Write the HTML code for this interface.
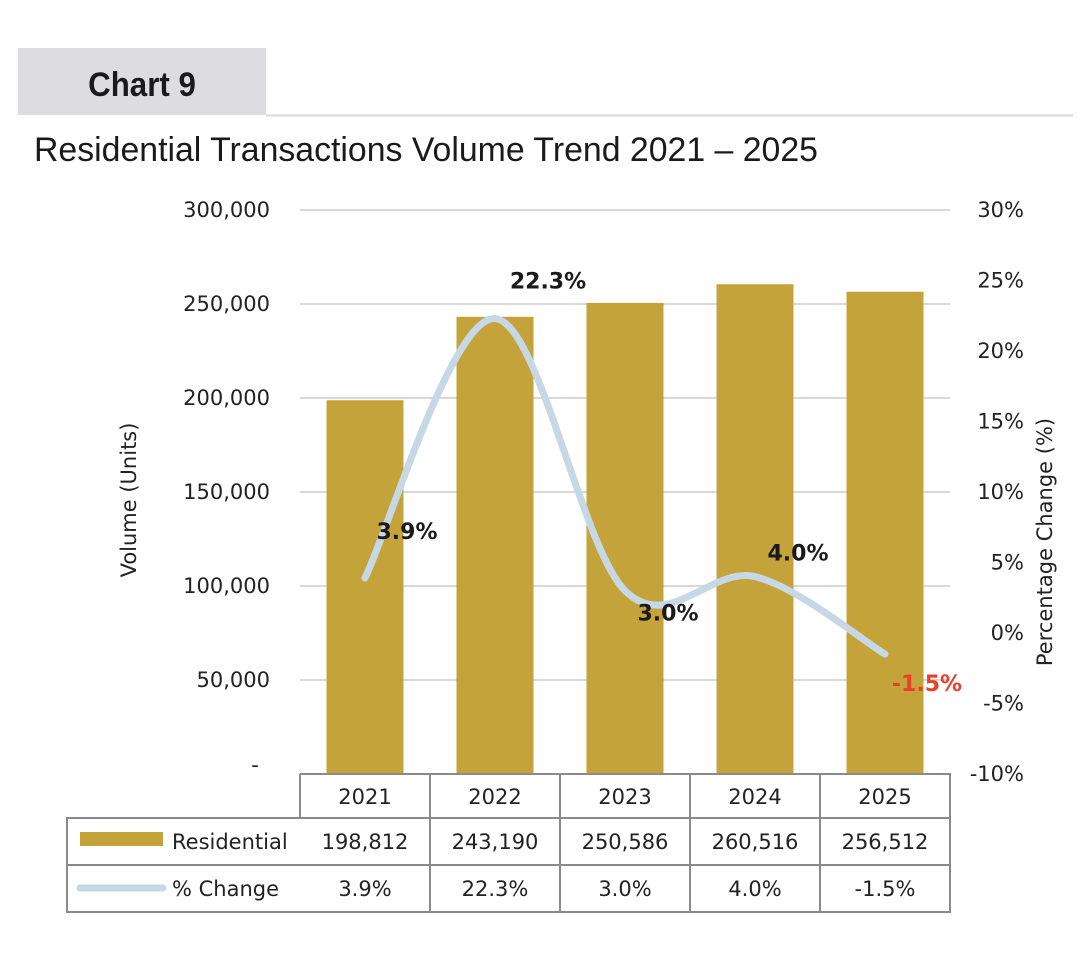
<!DOCTYPE html>
<html><head><meta charset="utf-8"><style>
body{margin:0;background:#fff;font-family:"Liberation Sans",sans-serif}
svg text{font-family:"DejaVu Sans","Liberation Sans",sans-serif}
</style></head><body>
<svg width="1080" height="957" viewBox="0 0 1080 957">
<rect x="18" y="48" width="248" height="67" fill="#dddde0"/>
<text x="142" y="96" text-anchor="middle" font-size="34" font-weight="bold" fill="#1a1a1a" style="font-family:'Liberation Sans',sans-serif" transform="translate(142 0) scale(0.92 1) translate(-142 0)">Chart 9</text>
<line x1="266" y1="115.5" x2="1073" y2="115.5" stroke="#d8d8d8" stroke-width="2"/>
<text x="34" y="161" font-size="34" fill="#1a1a1a" style="font-family:'Liberation Sans',sans-serif" textLength="784" lengthAdjust="spacingAndGlyphs">Residential Transactions Volume Trend 2021 – 2025</text>
<g id="grid"></g>
<g id="bars"></g>
<g id="line"></g>
<g id="table"></g>
<text transform="translate(136 500) rotate(-90)" text-anchor="middle" font-size="21" fill="#222">Volume (Units)</text>
<text transform="translate(1052 542) rotate(-90)" text-anchor="middle" font-size="21" fill="#222">Percentage Change (%)</text>
</svg>
<script>
const categories=["2021","2022","2023","2024","2025"];
const volumes=[198812,243190,250586,260516,256512];
const pctChange=[3.9,22.3,3.0,4.0,-1.5];
const volLabels=["198,812","243,190","250,586","260,516","256,512"];
const pctLabels=["3.9%","22.3%","3.0%","4.0%","-1.5%"];
const leftTicks=[0,50000,100000,150000,200000,250000,300000];
const leftTickLabels=["-","50,000","100,000","150,000","200,000","250,000","300,000"];
const rightTicks=[-10,-5,0,5,10,15,20,25,30];

const NS="http://www.w3.org/2000/svg";
const x0=300,cw=130,yTop=210,yBot=774;
const yL=v=>yBot-(v/300000)*(yBot-yTop);
const yR=p=>yBot-((p+10)/40)*(yBot-yTop);
const xC=i=>x0+cw*i+cw/2;
function mk(tag,attrs,parent,txt){const e=document.createElementNS(NS,tag);for(const k in attrs)e.setAttribute(k,attrs[k]);if(txt!==undefined)e.textContent=txt;parent.appendChild(e);return e;}
const grid=document.getElementById('grid'),bars=document.getElementById('bars'),line=document.getElementById('line'),table=document.getElementById('table');
leftTicks.forEach((t,i)=>{
 if(t>0){const g=mk('line',{x1:x0,x2:950,y1:yL(t),y2:yL(t),stroke:'#d9d9d9','stroke-width':2},grid);
 
 }
 const tx=mk('text',{x:i==0?255:270,y:yL(t)+(i==0?-2:7),'text-anchor':i==0?'middle':'end','font-size':21,fill:'#222'},grid,leftTickLabels[i]);
 
 
});
rightTicks.forEach(t=>{
 const tx=mk('text',{x:1024,y:yR(t)+7,'text-anchor':'end','font-size':21,fill:'#222'},grid,t+'%');
 
 
});
volumes.forEach((v,i)=>{
 const b=mk('rect',{x:xC(i)-38.5,y:yL(v),width:77,height:yBot-yL(v),fill:'#c4a33b'},bars);
 
 
});
const pts=pctChange.map((p,i)=>[xC(i),yR(p)]);
let d='M'+pts[0][0]+','+pts[0][1];
for(let i=0;i<pts.length-1;i++){
 const p0=pts[Math.max(0,i-1)],p1=pts[i],p2=pts[i+1],p3=pts[Math.min(pts.length-1,i+2)];
 const t=1/6;
 const c1=[p1[0]+(p2[0]-p0[0])*t,p1[1]+(p2[1]-p0[1])*t];
 const c2=[p2[0]-(p3[0]-p1[0])*t,p2[1]-(p3[1]-p1[1])*t];
 d+=' C'+c1+' '+c2+' '+p2;
}
const ln=mk('path',{d:d,fill:'none',stroke:'#c6d7e6','stroke-width':7,'stroke-linecap':'round'},line);


const labOff=[[42,-39],[53,-30],[43,30],[43,-16],[42,37]];
pctChange.forEach((p,i)=>{
 const t=mk('text',{x:xC(i)+labOff[i][0],y:yR(p)+labOff[i][1],'text-anchor':'middle','font-size':22,'font-weight':'bold',fill:p<0?'#e8402a':'#1a1a1a'},line,pctLabels[i]);
 
 
});
const st={stroke:'#8a8a8a','stroke-width':2,fill:'none'};
const tb=mk('path',{d:`M300,774H950V912H67V818H300V774 M67,865H950 M300,818H950`,...st},table);


for(let i=1;i<5;i++){const l=mk('line',{x1:x0+cw*i,x2:x0+cw*i,y1:774,y2:912,...st},table);
 
 }
categories.forEach((c,i)=>{
 [[c,804],[volLabels[i],849],[pctLabels[i],896]].forEach(([s,y])=>{
  const t=mk('text',{x:xC(i),y:y,'text-anchor':'middle','font-size':21,fill:'#222'},table,s);
  
  
 });
});
const lk1=mk('rect',{x:80,y:832,width:83,height:14,fill:'#c4a33b'},table);


const lt1=mk('text',{x:172,y:849,'font-size':21,fill:'#222'},table,'Residential');


const lk2=mk('line',{x1:80,x2:163,y1:888,y2:888,stroke:'#c6d7e6','stroke-width':7,'stroke-linecap':'round'},table);


const lt2=mk('text',{x:172,y:896,'font-size':21,fill:'#222'},table,'% Change');


</script>
</body></html>
